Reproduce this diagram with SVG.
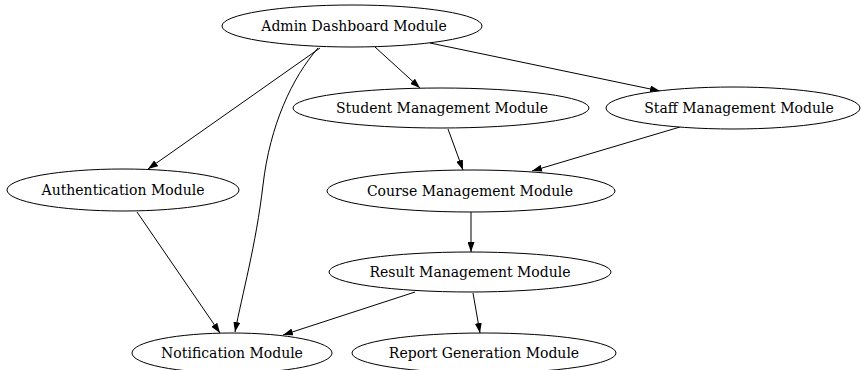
<svg xmlns="http://www.w3.org/2000/svg" width="862" height="370" viewBox="0 0 862 370">
<defs>
<style>
.node ellipse{fill:#fff;stroke:#000;stroke-width:1}
.node text{font-family:"DejaVu Serif",serif;font-size:14px;fill:#000;text-anchor:middle}
.edges path{fill:none;stroke:#000;stroke-width:1}
</style>
<marker id="arr" markerUnits="userSpaceOnUse" markerWidth="10" markerHeight="7" refX="10" refY="3.5" orient="auto">
<path d="M0,0 L10,3.5 L0,7 z" fill="#000"/>
</marker>
</defs>
<rect width="862" height="370" fill="#fff"/>
<g class="edges">
<path d="M375,47 L420,88" marker-end="url(#arr)"/>
<path d="M430,43 L660,91" marker-end="url(#arr)"/>
<path d="M320,48 L148,169" marker-end="url(#arr)"/>
<path d="M318,48 C292,78 270,125 263,185 C256,245 242,295 235,332" marker-end="url(#arr)"/>
<path d="M448,129 L463,170" marker-end="url(#arr)"/>
<path d="M680,127 L532,171" marker-end="url(#arr)"/>
<path d="M137,212 L220,333" marker-end="url(#arr)"/>
<path d="M471,212 L471,252" marker-end="url(#arr)"/>
<path d="M415,292 L283,335" marker-end="url(#arr)"/>
<path d="M473,293 L480,333" marker-end="url(#arr)"/>
</g>
<g id="admin" class="node"><ellipse cx="352" cy="26" rx="130" ry="21"/><text x="354" y="31">Admin Dashboard Module</text></g>
<g id="student" class="node"><ellipse cx="441" cy="108" rx="148" ry="20"/><text x="442" y="113">Student Management Module</text></g>
<g id="staff" class="node"><ellipse cx="733" cy="108" rx="127" ry="21"/><text x="739" y="113">Staff Management Module</text></g>
<g id="auth" class="node"><ellipse cx="123" cy="190" rx="116" ry="21"/><text x="123" y="195">Authentication Module</text></g>
<g id="course" class="node"><ellipse cx="471" cy="191" rx="144" ry="21"/><text x="470" y="196">Course Management Module</text></g>
<g id="result" class="node"><ellipse cx="470" cy="272" rx="141" ry="20"/><text x="470" y="277">Result Management Module</text></g>
<g id="notification" class="node"><ellipse cx="232" cy="353" rx="100" ry="20"/><text x="232" y="358">Notification Module</text></g>
<g id="report" class="node"><ellipse cx="484" cy="353" rx="132" ry="20"/><text x="484" y="358">Report Generation Module</text></g>
</svg>
